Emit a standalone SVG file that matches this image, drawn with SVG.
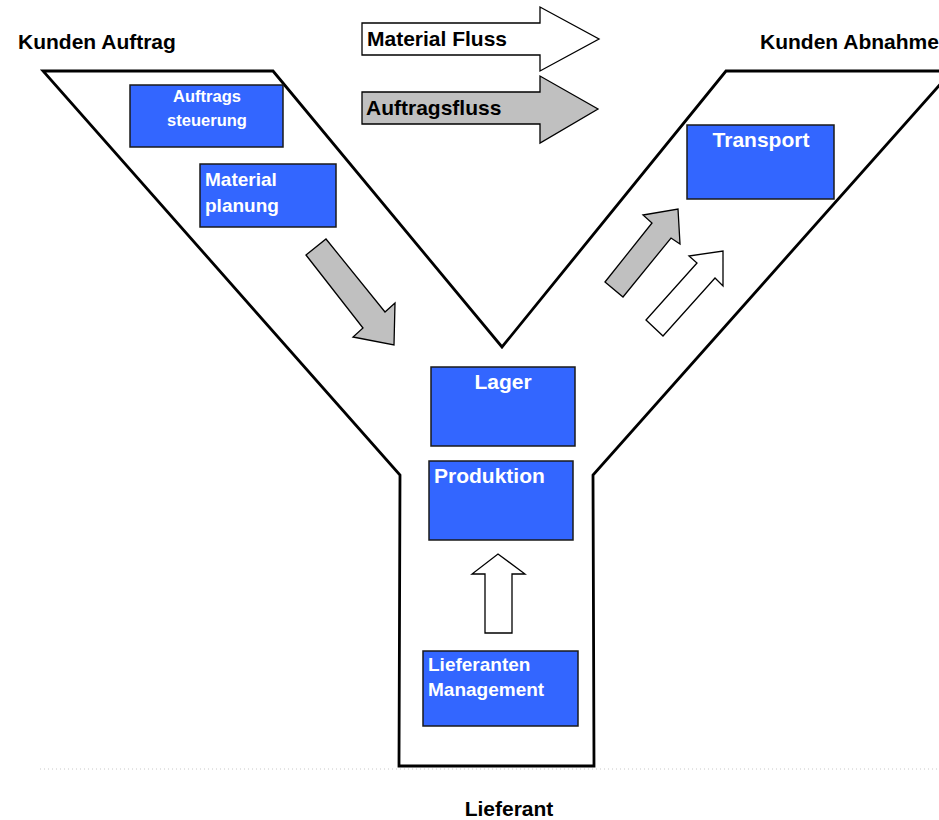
<svg xmlns="http://www.w3.org/2000/svg" width="939" height="820" viewBox="0 0 939 820">
<style>
text{font-family:"Liberation Sans",Arial,sans-serif;font-weight:bold}
.lbl{fill:#000;font-size:21px}
.box{fill:#3366FF;stroke:#1a1a1a;stroke-width:1.5}
.bt{fill:#fff}
.wa{fill:#fff;stroke:#000;stroke-width:1.3}
.ga{fill:#C0C0C0;stroke:#000;stroke-width:1.3}
</style>
<rect width="939" height="820" fill="#fff"/>
<g id="outline">
<polygon points="43,71 273,71 502,347 726,71 952,71 593,475 594,766 399,766 400,475" fill="#fff" stroke="#000" stroke-width="2.8" stroke-linejoin="miter"/>
<line x1="40" y1="769" x2="939" y2="769" stroke="#c8c8c8" stroke-width="1" stroke-dasharray="1,3"/>
</g>
<g id="labels">
<text class="lbl" x="18" y="49">Kunden Auftrag</text>
<text class="lbl" x="760" y="49">Kunden Abnahme</text>
<text class="lbl" x="509" y="816" text-anchor="middle">Lieferant</text>
</g>
<g id="legend-material">
<polygon class="wa" points="362,23 540,23 540,7 599,39 540,71 540,55 362,55"/>
<text class="lbl" x="367" y="46">Material Fluss</text>
</g>
<g id="legend-auftrag">
<polygon class="ga" points="362,92 540,92 540,76 598,109 540,143 540,124 362,124"/>
<text class="lbl" x="366" y="115">Auftragsfluss</text>
</g>
<g id="auftragssteuerung">
<rect class="box" x="130" y="85" width="153" height="62"/>
<text class="bt" x="207" y="102" text-anchor="middle" font-size="16.5">Auftrags</text>
<text class="bt" x="207" y="126" text-anchor="middle" font-size="16.5">steuerung</text>
</g>
<g id="materialplanung">
<rect class="box" x="200" y="164" width="136" height="63"/>
<text class="bt" x="205" y="186" font-size="19">Material</text>
<text class="bt" x="205" y="212" font-size="19">planung</text>
</g>
<g id="transport">
<rect class="box" x="687" y="125" width="147" height="74"/>
<text class="bt" x="761" y="147" text-anchor="middle" font-size="21">Transport</text>
</g>
<g id="lager">
<rect class="box" x="431" y="367" width="144" height="79"/>
<text class="bt" x="503" y="389" text-anchor="middle" font-size="21">Lager</text>
</g>
<g id="produktion">
<rect class="box" x="429" y="461" width="144" height="79"/>
<text class="bt" x="434" y="483" font-size="21">Produktion</text>
</g>
<g id="lieferanten">
<rect class="box" x="423" y="651" width="155" height="75"/>
<text class="bt" x="428" y="671" font-size="19">Lieferanten</text>
<text class="bt" x="428" y="696" font-size="19">Management</text>
</g>
<g id="connectors">
<polygon class="ga" points="306,255 326,239 385,312 395,303 394,345 353,337 363,328"/>
<polygon class="ga" points="605,282 623,297 671,238 680,244 678,209 643,215 652,223"/>
<polygon class="wa" points="646,320 663,336 715,278 723,286 723,251 689,256 697,263"/>
<polygon class="wa" points="485,633 512,633 512,574 525,574 498,554 472,574 485,574"/>
</g>
</svg>
